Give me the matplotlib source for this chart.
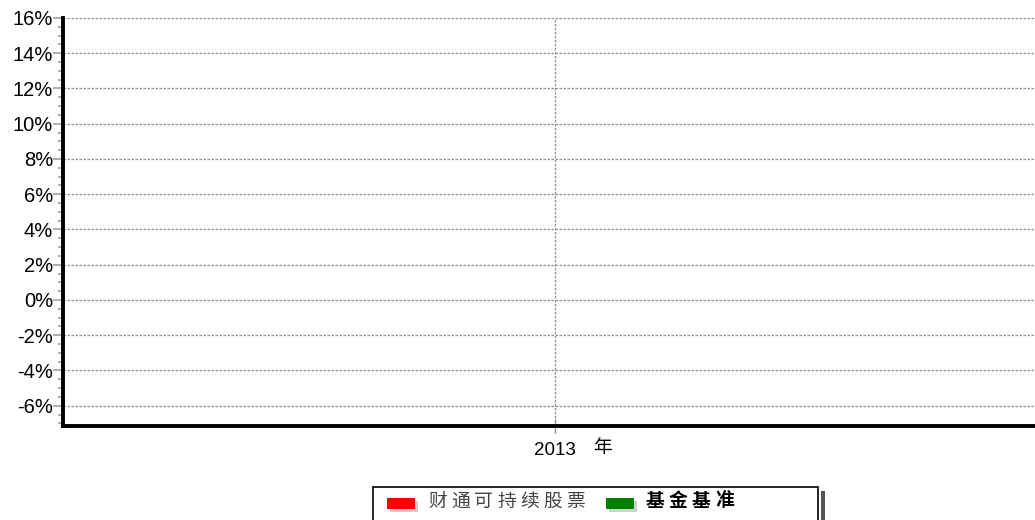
import matplotlib
matplotlib.use("Agg")
import matplotlib.pyplot as plt
from matplotlib.patches import Rectangle
from matplotlib.ticker import MultipleLocator, FuncFormatter

plt.rcParams['font.family'] = ['Liberation Sans', 'Noto Sans CJK SC', 'DejaVu Sans']

# Data
series_names = ["财通可持续股票", "基金基准"]
series_colors = ["#ff0000", "#008000"]
years = [2013]
year_labels = ["2013"]
year_suffix = "年"
y_ticks = [-6, -4, -2, 0, 2, 4, 6, 8, 10, 12, 14, 16]

W, H = 1035, 520
fig = plt.figure(figsize=(W / 100, H / 100), dpi=100)
left, right, top, bottom = 63, 1035, 18, 426
ax = fig.add_axes([left / W, 1 - bottom / H, (right - left) / W, (bottom - top) / H])

ax.set_ylim(-7.15, 16)
ax.set_xlim(2012, 2012 + (right - left) / (555 - left))

ax.yaxis.set_minor_locator(MultipleLocator(0.5))
ax.yaxis.set_major_formatter(FuncFormatter(lambda v, p: f"{int(round(v))}%"))
ax.set_yticks(y_ticks)
ax.set_xticks(years)
ax.set_xticklabels([""])

for s in ['top', 'right']:
    ax.spines[s].set_visible(False)
for s in ['left', 'bottom']:
    ax.spines[s].set_linewidth(2.8)
    ax.spines[s].set_color('black')

ax.tick_params(axis='y', which='major', length=7.2, width=1.1, color='#999999',
               labelsize=14.5, pad=0, labelcolor='black')
ax.tick_params(axis='y', which='minor', length=3.6, width=1.1, color='#999999')
ax.tick_params(axis='x', which='major', length=10, width=1, color='#909090',
               direction='inout', pad=8)

ax.grid(axis='y', which='major', color='#909090', linestyle=(0, (2, 1.2)), linewidth=0.9)
ax.grid(axis='x', which='major', color='#909090', linestyle=(0, (2, 1.2)), linewidth=0.9)

# x label "2013 年"
axh = bottom - top
ax.text(years[0], -(442 - bottom) / axh, year_labels[0], transform=ax.get_xaxis_transform(),
        ha='center', va='top', fontsize=13.5)
ax.text(years[0] + (602 - 555) / (555 - left), -(437 - bottom) / axh, year_suffix,
        transform=ax.get_xaxis_transform(),
        ha='center', va='top', fontsize=13.5, family=['Noto Sans CJK SC'], fontweight='medium')

# empty series (no data in reference)
for name, c in zip(series_names, series_colors):
    ax.plot([], [], color=c, label=name)

# Legend (manual)
bx0, by0, bx1 = 373, 487, 818
fig.patches.append(Rectangle(((bx1 + 3) / W, 0), 3.5 / W, (H - by0 - 4) / H,
                             transform=fig.transFigure, facecolor='#555555',
                             edgecolor='none'))
fig.patches.append(Rectangle((bx0 / W, -0.01), (bx1 - bx0) / W, (H - by0) / H + 0.01,
                             transform=fig.transFigure, facecolor='white',
                             edgecolor='black', linewidth=1.2))
patch_x = [387, 606]
text_x = [428, 646]
weights = ['normal', 'bold']
tcolors = ['#444444', 'black']
pitch = 23
for px, tx, c, name, w, tc in zip(patch_x, text_x, series_colors, series_names, weights, tcolors):
    fig.patches.append(Rectangle(((px + 3) / W, 1 - 512 / H), 28 / W, 11 / H,
                                 transform=fig.transFigure, facecolor='#d0d0d0',
                                 edgecolor='none'))
    fig.patches.append(Rectangle((px / W, 1 - 509 / H), 28 / W, 11 / H,
                                 transform=fig.transFigure, facecolor=c,
                                 edgecolor='none'))
    for i, ch in enumerate(name):
        fig.text((tx + i * pitch) / W, 1 - 501 / H, ch, ha='left', va='center',
                 fontsize=13.5, family=['Noto Sans CJK SC'], fontweight=w, color=tc)

fig.savefig("out.png", dpi=100)
